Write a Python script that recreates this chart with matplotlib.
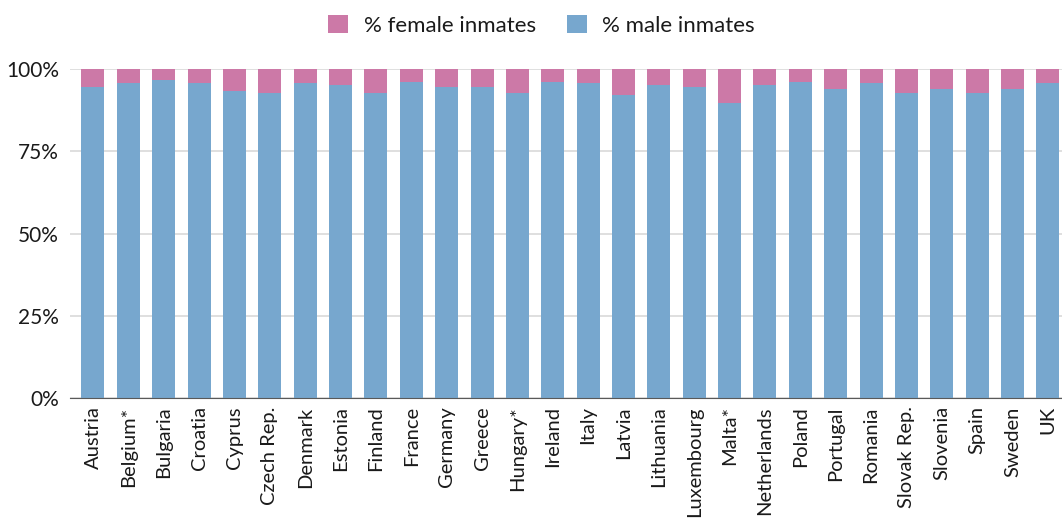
import numpy as np
import matplotlib
matplotlib.use('Agg')
import matplotlib.pyplot as plt
from matplotlib.ticker import PercentFormatter

plt.rcParams['font.family'] = ['Lato', 'DejaVu Sans']

# data
countries = ['Austria', 'Belgium*', 'Bulgaria', 'Croatia', 'Cyprus', 'Czech Rep.', 'Denmark',
             'Estonia', 'Finland', 'France', 'Germany', 'Greece', 'Hungary*', 'Ireland', 'Italy',
             'Latvia', 'Lithuania', 'Luxembourg', 'Malta*', 'Netherlands', 'Poland', 'Portugal',
             'Romania', 'Slovak Rep.', 'Slovenia', 'Spain', 'Sweden', 'UK']
male = [94.5, 95.6, 96.8, 95.6, 93.3, 92.7, 95.6, 95.1, 92.7, 96.2, 94.4, 94.4, 92.7, 96.2,
        95.6, 92.1, 95.1, 94.4, 89.8, 95.1, 96.2, 93.9, 95.6, 92.7, 93.9, 92.7, 93.9, 95.6]
female = [100 - m for m in male]

fig = plt.figure(figsize=(10.62, 5.24), dpi=100)
ax = fig.add_axes([70 / 1062, 1 - 398 / 524, 1 - 70 / 1062, (398 - 69) / 524])

x = np.arange(len(countries))
ax.bar(x, male, width=0.65, color='#77A7CE', label='% male inmates', zorder=3)
ax.bar(x, female, width=0.65, bottom=male, color='#CC79A7', label='% female inmates', zorder=3)

ax.set_xlim(-0.65, len(countries) - 0.6)
ax.set_ylim(0, 100)
ax.set_yticks([0, 25, 50, 75, 100])
ax.yaxis.set_major_formatter(PercentFormatter(100, decimals=0))
ax.grid(axis='y', color='#d9d9d9', linewidth=1.2, zorder=0)
ax.set_xticks(x)
ax.set_xticklabels(countries, rotation=90, fontsize=14.5, color='#1a1a1a')
ax.tick_params(axis='y', labelsize=15, labelcolor='#1a1a1a', length=0, pad=8)
ax.tick_params(axis='x', length=0, pad=6)
for s in ['top', 'right', 'left']:
    ax.spines[s].set_visible(False)
ax.spines['bottom'].set_color('#595959')
ax.spines['bottom'].set_zorder(4)

handles, labels = ax.get_legend_handles_labels()
leg = fig.legend(handles[::-1], labels[::-1], loc='upper center', bbox_to_anchor=(0.51, 1.01),
                 ncol=2, frameon=False, fontsize=16, handlelength=0.9, handleheight=0.9,
                 handletextpad=0.7, columnspacing=1.4)
for t in leg.get_texts():
    t.set_color('#1a1a1a')

fig.savefig('out.png', dpi=100)
